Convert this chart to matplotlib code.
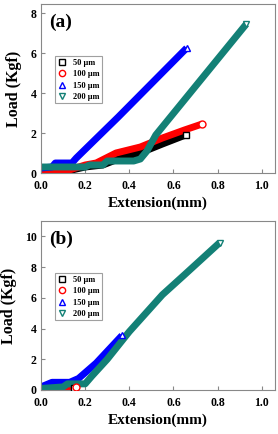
import matplotlib
matplotlib.use("Agg")
import matplotlib.pyplot as plt
from matplotlib.lines import Line2D

plt.rcParams['font.family'] = ['Liberation Serif', 'DejaVu Serif']
plt.rcParams['font.weight'] = 'bold'

labels = ["50 \u03bcm", "100 \u03bcm", "150 \u03bcm", "200 \u03bcm"]
colors = ["black", "red", "blue", "#138076"]
markers = ["s", "o", "^", "v"]

# Panel (a)
a_x50 = [0.0, 0.12, 0.2, 0.28, 0.35, 0.46, 0.55, 0.655]
a_y50 = [0.15, 0.1, 0.3, 0.4, 0.7, 1.05, 1.45, 1.9]
a_x100 = [0.0, 0.1, 0.2, 0.25, 0.34, 0.45, 0.55, 0.65, 0.73]
a_y100 = [0.1, 0.05, 0.4, 0.5, 1.0, 1.3, 1.75, 2.15, 2.45]
a_x150 = [0.0, 0.05, 0.065, 0.14, 0.16, 0.35, 0.66]
a_y150 = [0.25, 0.3, 0.5, 0.5, 0.75, 2.8, 6.25]
a_x200 = [0.0, 0.2, 0.22, 0.28, 0.3, 0.42, 0.45, 0.48, 0.52, 0.93]
a_y200 = [0.3, 0.3, 0.4, 0.4, 0.6, 0.6, 0.7, 1.1, 1.9, 7.45]

# Panel (b)
b_x50 = [0.08, 0.12, 0.15]
b_y50 = [0.0, 0.05, 0.15]
b_x100 = [0.08, 0.12, 0.16]
b_y100 = [0.0, 0.1, 0.2]
b_x150 = [0.0, 0.05, 0.13, 0.17, 0.25, 0.367]
b_y150 = [0.2, 0.5, 0.5, 0.75, 1.75, 3.55]
b_x200 = [0.0, 0.1, 0.12, 0.2, 0.23, 0.3, 0.4, 0.55, 0.65, 0.81]
b_y200 = [0.1, 0.2, 0.4, 0.4, 0.9, 2.0, 3.8, 6.2, 7.5, 9.6]

fig = plt.figure(figsize=(2.78, 4.34), dpi=100)
ax1 = fig.add_axes([41/278, 1-173/434, 234/278, 169/434])
ax2 = fig.add_axes([41/278, 1-390/434, 234/278, 169/434])

def draw(ax, xs, ys, ymax, yticks, tag):
    for x, y, c, m in zip(xs, ys, colors, markers):
        ax.plot(x, y, color=c, lw=5, solid_capstyle='butt', solid_joinstyle='round', zorder=2)
        ax.plot(x[-1], y[-1], marker=m, ms=5, mfc='white', mec=c, mew=1, ls='none', zorder=3)
    ax.set_xlim(0, 1.06)
    ax.set_ylim(0, ymax)
    ax.set_xticks([0.0, 0.2, 0.4, 0.6, 0.8, 1.0])
    ax.set_yticks(yticks)
    ax.tick_params(labelsize=8.5, length=3, direction='in', color='#888888', pad=3)
    ax.tick_params(axis='x', pad=5)
    for lab in ax.get_xticklabels() + ax.get_yticklabels():
        lab.set_fontweight('bold')
    ax.set_xlabel("Extension(mm)", fontsize=11, fontweight='bold', labelpad=3)
    ax.set_ylabel("Load (Kgf)", fontsize=11.5, fontweight='bold', labelpad=6)
    for s in ax.spines.values():
        s.set_color('#888888')
        s.set_linewidth(0.8)
    ax.text(0.035, 0.945, tag, transform=ax.transAxes, fontsize=14, fontweight='bold', va='top')
    handles = [Line2D([], [], marker=m, color=c, mfc='white', mec=c, ls='none', ms=4.5, mew=1)
               for c, m in zip(colors, markers)]
    leg = ax.legend(handles, labels, loc='upper left', bbox_to_anchor=(0.06, 0.69),
                    prop={'family': 'Liberation Serif', 'weight': 'bold', 'size': 6},
                    frameon=True, fancybox=False, edgecolor='#888888', borderpad=0.3,
                    handlelength=1.0, handletextpad=0.8, labelspacing=0.4, borderaxespad=0)
    leg.get_frame().set_linewidth(0.8)

draw(ax1, [a_x50, a_x100, a_x150, a_x200], [a_y50, a_y100, a_y150, a_y200], 8.45, [0, 2, 4, 6, 8], "(a)")
draw(ax2, [b_x50, b_x100, b_x150, b_x200], [b_y50, b_y100, b_y150, b_y200], 11, [0, 2, 4, 6, 8, 10], "(b)")

fig.savefig("out.png", dpi=100)
